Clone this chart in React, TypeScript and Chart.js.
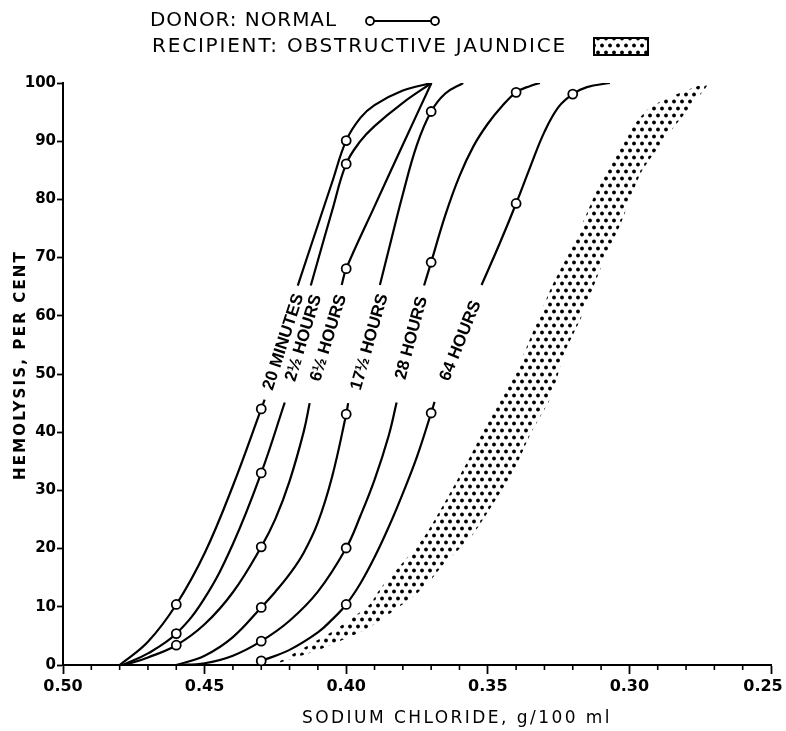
import React, { useEffect, useRef } from "react";
import { Chart, registerables } from "chart.js";

Chart.register(...registerables);

// ---------- axis ticks ----------
const X_TICKS = [0.5, 0.45, 0.4, 0.35, 0.3, 0.25];
const Y_TICKS = [0, 10, 20, 30, 40, 50, 60, 70, 80, 90, 100];

// ---------- donor curves: [NaCl g/100ml, hemolysis %] ----------
// 20 minutes
const M20_LOW = [[0.48, 0], [0.47, 4.0], [0.46, 10.4], [0.45, 19.2], [0.44, 30.8], [0.43, 44], [0.4288, 45.6]];
const M20_HIGH = [[0.4171, 65.2], [0.41, 75.6], [0.405, 82.9], [0.4, 90.1], [0.395, 94.0], [0.39, 96.2], [0.38, 98.7], [0.3699, 100]];
const M20_MARKS = [[0.46, 10.4], [0.43, 44], [0.4, 90.1]];
// 2 1/2 hours
const H2_LOW = [[0.479, 0], [0.47, 2.0], [0.46, 5.4], [0.45, 11.5], [0.44, 20.8], [0.43, 33], [0.4217, 45.1]];
const H2_HIGH = [[0.4125, 65.2], [0.41, 69.5], [0.405, 78.0], [0.4, 86.1], [0.395, 90.0], [0.39, 92.6], [0.38, 96.6], [0.3699, 100]];
const H2_MARKS = [[0.46, 5.4], [0.43, 33], [0.4, 86.1]];
// 6 1/2 hours
const H6_LOW = [[0.478, 0], [0.47, 1.3], [0.46, 3.4], [0.45, 7.0], [0.44, 12.5], [0.43, 20.3], [0.425, 25.1], [0.42, 31.6], [0.415, 40.1], [0.4129, 45.0]];
const H6_HIGH = [[0.4016, 65.3], [0.4, 68.1], [0.39, 78.8], [0.38, 89.4], [0.3699, 100]];
const H6_MARKS = [[0.46, 3.4], [0.43, 20.3], [0.4, 68.1]];
// 17 1/2 hours
const H17_LOW = [[0.46, 0], [0.45, 1.6], [0.44, 4.8], [0.43, 9.9], [0.425, 12.6], [0.42, 15.6], [0.415, 19.3], [0.41, 24.5], [0.405, 32.3], [0.4, 43.1], [0.3993, 45.0]];
const H17_HIGH = [[0.3881, 65.3], [0.385, 71.3], [0.38, 80.9], [0.375, 89.4], [0.37, 95.1], [0.365, 98.2], [0.3587, 100]];
const H17_MARKS = [[0.43, 9.9], [0.4, 43.1], [0.37, 95.1]];
// 28 hours
const H28_LOW = [[0.46, 0], [0.45, 0.3], [0.44, 1.6], [0.43, 4.1], [0.42, 7.6], [0.41, 12.6], [0.4, 20.1], [0.395, 25.6], [0.39, 31.8], [0.385, 39.4], [0.3822, 45.1]];
const H28_HIGH = [[0.3725, 65.2], [0.37, 69.2], [0.365, 77.3], [0.36, 84.0], [0.355, 89.2], [0.35, 93.0], [0.345, 96.0], [0.34, 98.4], [0.335, 99.5], [0.3316, 100]];
const H28_MARKS = [[0.43, 4.1], [0.4, 20.1], [0.37, 69.2], [0.34, 98.4]];
// 64 hours
const H64_LOW = [[0.43, 0.7], [0.42, 2.6], [0.41, 5.6], [0.405, 7.8], [0.4, 10.4], [0.395, 14.0], [0.39, 18.5], [0.385, 23.7], [0.38, 29.5], [0.375, 35.8], [0.37, 43.3], [0.3688, 45.2]];
const H64_HIGH = [[0.3522, 65.3], [0.346, 72.2], [0.34, 79.3], [0.335, 85.6], [0.33, 91.6], [0.325, 95.9], [0.32, 98.1], [0.315, 99.3], [0.3069, 100]];
const H64_MARKS = [[0.43, 0.7], [0.4, 10.4], [0.37, 43.3], [0.34, 79.3], [0.32, 98.1]];

// ---------- recipient band (obstructive jaundice) ----------
const BAND_LEFT = [[0.425, 0.2], [0.4048, 5.8], [0.3917, 10.4], [0.388, 13.1], [0.3725, 22], [0.357, 35.1], [0.35, 41.7], [0.338, 52.7], [0.328, 64.4], [0.3196, 72.5], [0.311, 82.1], [0.303, 89.7], [0.2924, 95.9], [0.2722, 100]];
const BAND_RIGHT = [[0.2722, 100], [0.2794, 95.4], [0.2878, 90.2], [0.296, 84.5], [0.303, 75.9], [0.309, 69.5], [0.317, 59.7], [0.323, 53.5], [0.3277, 46], [0.3348, 39.8], [0.3408, 33.4], [0.349, 27], [0.356, 21.9], [0.3655, 17.4], [0.371, 14.1], [0.377, 11.5], [0.392, 6.4], [0.408, 2.9], [0.4195, 1.0], [0.425, 0.2]];

// ---------- curve labels ----------
const CURVE_LABELS = ["20 MINUTES", "2½ HOURS", "6½ HOURS", "17½ HOURS", "28 HOURS", "64 HOURS"];
const LABEL_X = [0.4221, 0.415, 0.4062, 0.3917, 0.3769, 0.3596];
const LABEL_Y = [55.5, 56.2, 56.2, 55.5, 56.2, 55.7];
const LABEL_ANGLE = [72, 73, 73, 74, 75, 68];

const LEGEND_DONOR = "DONOR: NORMAL";
const LEGEND_RECIPIENT = "RECIPIENT: OBSTRUCTIVE JAUNDICE";
const X_TITLE = "SODIUM CHLORIDE, g/100 ml";
const Y_TITLE = "HEMOLYSIS, PER CENT";

const FONT = '"DejaVu Sans", sans-serif';
const LABEL_FONT = 'bold 17px "Liberation Sans", Arial, sans-serif';

const toPts = (arr: number[][]) => arr.map((p) => ({ x: p[0], y: p[1] }));

function makeDotPattern(): CanvasPattern | string {
  const c = document.createElement("canvas");
  c.width = 8;
  c.height = 14;
  const g = c.getContext("2d");
  if (!g) return "#000";
  g.fillStyle = "#000";
  g.beginPath();
  g.arc(2, 3.5, 1.9, 0, Math.PI * 2);
  g.fill();
  g.beginPath();
  g.arc(6, 10.5, 1.9, 0, Math.PI * 2);
  g.fill();
  return g.createPattern(c, "repeat") || "#000";
}

function fitText(ctx: CanvasRenderingContext2D, text: string, x: number, y: number, width: number) {
  (ctx as any).letterSpacing = "0px";
  const w = ctx.measureText(text).width;
  const s = (width - w) / text.length;
  (ctx as any).letterSpacing = s + "px";
  ctx.textAlign = "left";
  ctx.fillText(text, x, y);
  (ctx as any).letterSpacing = "0px";
}

export default function App() {
  const ref = useRef<HTMLCanvasElement | null>(null);

  useEffect(() => {
    document.body.style.margin = "0";
    const canvas = ref.current;
    if (!canvas) return;
    const pattern = makeDotPattern();

    const curves = [
      [M20_LOW, M20_HIGH, M20_MARKS],
      [H2_LOW, H2_HIGH, H2_MARKS],
      [H6_LOW, H6_HIGH, H6_MARKS],
      [H17_LOW, H17_HIGH, H17_MARKS],
      [H28_LOW, H28_HIGH, H28_MARKS],
      [H64_LOW, H64_HIGH, H64_MARKS],
    ];

    const datasets: any[] = [];
    curves.forEach(([low, high, marks]) => {
      for (const seg of [low, high]) {
        datasets.push({
          data: toPts(seg),
          borderColor: "#000",
          borderWidth: 2.2,
          pointRadius: 0,
          tension: 0.4,
          fill: false,
          order: 1,
        });
      }
      datasets.push({
        data: toPts(marks),
        showLine: false,
        pointRadius: 4.5,
        pointBackgroundColor: "#fff",
        pointBorderColor: "#000",
        pointBorderWidth: 1.8,
        clip: false,
        order: 0,
      });
    });
    datasets.push({
      data: toPts([...BAND_LEFT, ...BAND_RIGHT.slice(1)]),
      borderWidth: 0,
      borderColor: "rgba(0,0,0,0)",
      backgroundColor: pattern,
      fill: "shape",
      pointRadius: 0,
      tension: 0.2,
      order: 2,
    });

    const overlay = {
      id: "overlay",
      afterDraw(chart: any) {
        const { ctx, chartArea } = chart;
        const x = chart.scales.x;
        const y = chart.scales.y;
        ctx.save();
        // minor ticks on x axis
        ctx.strokeStyle = "#000";
        ctx.lineWidth = 1.6;
        for (let k = 26; k < 50; k++) {
          if (k % 5 === 0) continue;
          const px = x.getPixelForValue(k / 100);
          ctx.beginPath();
          ctx.moveTo(px, chartArea.bottom);
          ctx.lineTo(px, chartArea.bottom + 5);
          ctx.stroke();
        }
        // curve labels
        ctx.fillStyle = "#000";
        ctx.font = LABEL_FONT;
        ctx.textAlign = "center";
        ctx.textBaseline = "middle";
        CURVE_LABELS.forEach((t, i) => {
          const px = x.getPixelForValue(LABEL_X[i]);
          const py = y.getPixelForValue(LABEL_Y[i]);
          ctx.save();
          ctx.translate(px, py);
          ctx.rotate((-LABEL_ANGLE[i] * Math.PI) / 180);
          ctx.fillText(t, 0, 0);
          ctx.restore();
        });
        // axis titles
        ctx.font = "17px " + FONT;
        ctx.textBaseline = "middle";
        fitText(ctx, X_TITLE, 302, 719, 310);
        ctx.save();
        ctx.translate(21, 365);
        ctx.rotate(-Math.PI / 2);
        ctx.font = "bold 15px " + FONT;
        fitText(ctx, Y_TITLE, -115, 0, 230);
        ctx.restore();
        // legend
        ctx.font = "20px " + FONT;
        fitText(ctx, LEGEND_DONOR, 150, 21, 187);
        fitText(ctx, LEGEND_RECIPIENT, 152, 47, 415);
        ctx.lineWidth = 2;
        ctx.beginPath();
        ctx.moveTo(374, 21);
        ctx.lineTo(431, 21);
        ctx.stroke();
        ctx.lineWidth = 1.8;
        for (const cx of [370, 435]) {
          ctx.beginPath();
          ctx.arc(cx, 21, 4, 0, Math.PI * 2);
          ctx.fillStyle = "#fff";
          ctx.fill();
          ctx.stroke();
        }
        ctx.fillStyle = pattern;
        ctx.fillRect(594, 38, 54, 17);
        ctx.lineWidth = 2;
        ctx.strokeRect(594, 38, 54, 17);
        ctx.restore();
      },
    };

    const chart = new Chart(canvas, {
      type: "line",
      data: { datasets },
      plugins: [overlay],
      options: {
        animation: false,
        responsive: true,
        maintainAspectRatio: false,
        layout: { padding: { left: 0, top: 83, right: 15, bottom: 0 } },
        plugins: { legend: { display: false }, tooltip: { enabled: false } },
        events: [],
        scales: {
          x: {
            type: "linear",
            min: 0.25,
            max: 0.5,
            reverse: true,
            afterBuildTicks: (s: any) => {
              s.ticks = X_TICKS.map((v) => ({ value: v }));
            },
            afterFit: (s: any) => {
              s.height = 66;
              s.paddingLeft = 0;
              s.paddingRight = 0;
            },
            ticks: {
              color: "#000",
              font: { family: FONT, size: 16, weight: "bold" },
              padding: 3,
              maxRotation: 0,
              autoSkip: false,
              callback: (v: any) => {
                const t = Number(v).toFixed(2);
                return Number(v) === X_TICKS[X_TICKS.length - 1] ? t + "\u2003" : t;
              },
            },
            grid: {
              drawOnChartArea: false,
              drawTicks: true,
              tickLength: 9,
              tickColor: "#000",
              tickWidth: 1.8,
            },
            border: { display: true, color: "#000", width: 2 },
          },
          y: {
            type: "linear",
            min: 0,
            max: 100,
            afterBuildTicks: (s: any) => {
              s.ticks = Y_TICKS.map((v) => ({ value: v }));
            },
            afterFit: (s: any) => {
              s.width = 63;
              s.paddingTop = 0;
              s.paddingBottom = 0;
            },
            ticks: {
              color: "#000",
              font: { family: FONT, size: 15, weight: "bold" },
              padding: 1,
              autoSkip: false,
              callback: (v: any) => String(v),
            },
            grid: {
              drawOnChartArea: false,
              drawTicks: true,
              tickLength: 6,
              tickColor: "#000",
              tickWidth: 1.8,
            },
            border: { display: true, color: "#000", width: 2 },
          },
        },
      },
    });
    return () => chart.destroy();
  }, []);

  return (
    <div style={{ position: "relative", width: 786, height: 731 }}>
      <canvas ref={ref} />
    </div>
  );
}
